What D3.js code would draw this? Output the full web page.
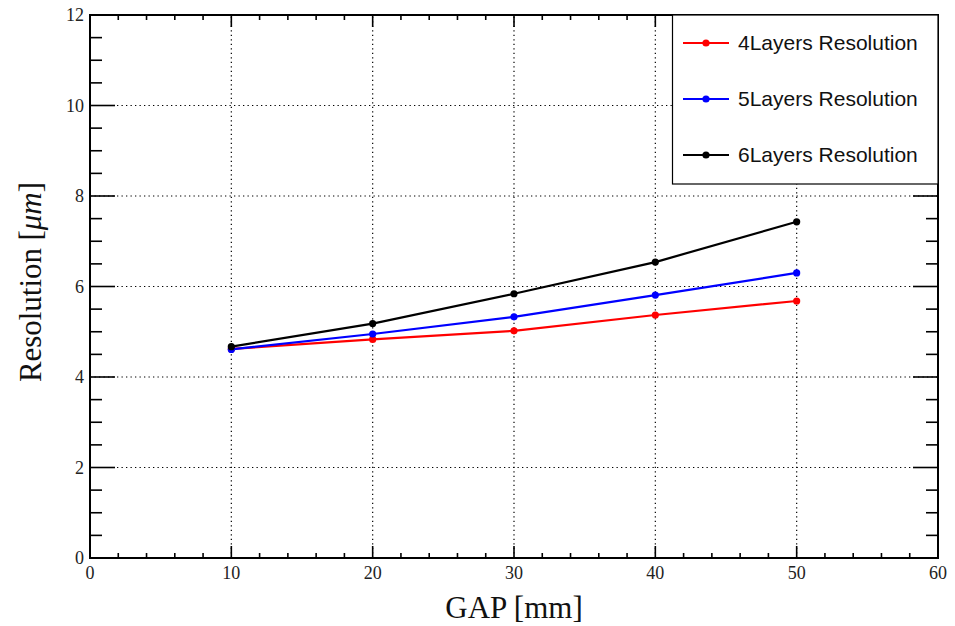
<!DOCTYPE html>
<html>
<head>
<meta charset="utf-8">
<script src="https://cdn.jsdelivr.net/npm/d3@7"></script>
<style>
  body { margin: 0; background: #fff; }
  .tick-label { font-family: "Liberation Serif", "Times New Roman", serif; font-size: 18px; fill: #222; }
  .axis-title { font-family: "Liberation Serif", "Times New Roman", serif; fill: #111; }
  .legend-text { font-family: "Liberation Sans", Arial, sans-serif; font-size: 21px; fill: #111; }
</style>
</head>
<body>
<div id="chart"></div>
<script>
const WIDTH = 955;
const HEIGHT = 626;
const MARGINS = { TOP: 15, LEFT: 90, BOTTOM: 68, RIGHT: 17 };

// data
const gaps = [10, 20, 30, 40, 50];
const res4 = [4.62, 4.83, 5.02, 5.37, 5.68];
const res5 = [4.61, 4.95, 5.33, 5.81, 6.30];
const res6 = [4.67, 5.18, 5.84, 6.54, 7.43];
const seriesNames = ['4Layers Resolution', '5Layers Resolution', '6Layers Resolution'];
const seriesColors = ['#ff0000', '#0000ff', '#000000'];
const xTicks = [0, 10, 20, 30, 40, 50, 60];
const yTicks = [0, 2, 4, 6, 8, 10, 12];

const series = [res4, res5, res6];

const svg = d3.select('#chart')
    .append('svg')
    .attr('width', WIDTH)
    .attr('height', HEIGHT);

const x = d3.scaleLinear().domain([0, 60]).range([MARGINS.LEFT, WIDTH - MARGINS.RIGHT]);
const y = d3.scaleLinear().domain([0, 12]).range([HEIGHT - MARGINS.BOTTOM, MARGINS.TOP]);

const x0 = x(0), x1 = x(60), y0 = y(0), y1 = y(12);

// grid
const grid = svg.append('g').attr('stroke', '#000').attr('stroke-width', 1.2).attr('stroke-dasharray', '1.3,3.2');
xTicks.slice(1, -1).forEach(t => {
    grid.append('line').attr('x1', x(t)).attr('x2', x(t)).attr('y1', y0).attr('y2', y1);
});
yTicks.slice(1, -1).forEach(t => {
    grid.append('line').attr('x1', x0).attr('x2', x1).attr('y1', y(t)).attr('y2', y(t));
});

// ticks, bottom/top and left/right
const ticks = svg.append('g').attr('stroke', '#000').attr('stroke-width', 1.6);
d3.range(0, 60.01, 2).forEach(t => {
    const len = t % 10 === 0 ? 12 : 5;
    ticks.append('line').attr('x1', x(t)).attr('x2', x(t)).attr('y1', y0).attr('y2', y0 - len);
    ticks.append('line').attr('x1', x(t)).attr('x2', x(t)).attr('y1', y1).attr('y2', y1 + len);
});
d3.range(0, 12.01, 0.5).forEach(t => {
    const len = t % 2 === 0 ? 25 : 12;
    ticks.append('line').attr('x1', x0).attr('x2', x0 + len).attr('y1', y(t)).attr('y2', y(t));
    ticks.append('line').attr('x1', x1).attr('x2', x1 - len).attr('y1', y(t)).attr('y2', y(t));
});

// frame
svg.append('rect')
    .attr('x', x0).attr('y', y1)
    .attr('width', x1 - x0).attr('height', y0 - y1)
    .attr('fill', 'none').attr('stroke', '#000').attr('stroke-width', 2);

// tick labels
svg.append('g').selectAll('text').data(xTicks).enter().append('text')
    .attr('class', 'tick-label')
    .attr('x', d => x(d))
    .attr('y', y0 + 21)
    .attr('text-anchor', 'middle')
    .text(d => d);
svg.append('g').selectAll('text').data(yTicks).enter().append('text')
    .attr('class', 'tick-label')
    .attr('x', x0 - 6)
    .attr('y', d => y(d) + 6)
    .attr('text-anchor', 'end')
    .text(d => d);

// axis titles
svg.append('text')
    .attr('class', 'axis-title')
    .attr('font-size', 31)
    .attr('x', 514)
    .attr('y', 618)
    .attr('text-anchor', 'middle')
    .text('GAP [mm]');

const yt = svg.append('text')
    .attr('class', 'axis-title')
    .attr('font-size', 31)
    .attr('transform', `translate(41, 382) rotate(-90)`)
    .attr('textLength', 200)
    .attr('lengthAdjust', 'spacing');
yt.append('tspan').text('Resolution [');
yt.append('tspan').attr('font-style', 'italic').text('μm');
yt.append('tspan').text(']');

// lines
const line = d3.line().x((d, i) => x(gaps[i])).y(d => y(d));
series.forEach((s, k) => {
    svg.append('path')
        .datum(s)
        .attr('d', line)
        .attr('fill', 'none')
        .attr('stroke', seriesColors[k])
        .attr('stroke-width', 2.2);
    svg.append('g').selectAll('circle').data(s).enter().append('circle')
        .attr('cx', (d, i) => x(gaps[i]))
        .attr('cy', d => y(d))
        .attr('r', 3.6)
        .attr('fill', seriesColors[k]);
});

// legend
const legend = svg.append('g');
legend.append('rect')
    .attr('x', 672.5).attr('y', y1)
    .attr('width', x1 - 672.5).attr('height', 184 - y1)
    .attr('fill', '#fff').attr('stroke', '#000').attr('stroke-width', 1.2);
seriesNames.forEach((name, k) => {
    const ly = 43 + k * 56;
    legend.append('line')
        .attr('x1', 683).attr('x2', 729).attr('y1', ly).attr('y2', ly)
        .attr('stroke', seriesColors[k]).attr('stroke-width', 2.2);
    legend.append('circle').attr('cx', 706).attr('cy', ly).attr('r', 3.6).attr('fill', seriesColors[k]);
    legend.append('text')
        .attr('class', 'legend-text')
        .attr('x', 738).attr('y', ly + 7)
        .text(name);
});
</script>
</body>
</html>
